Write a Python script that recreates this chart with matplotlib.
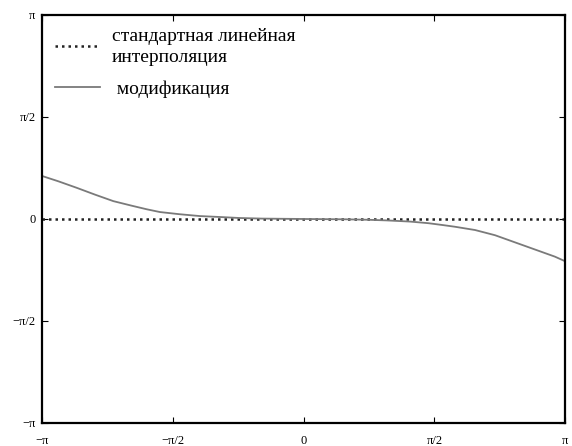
import numpy as np
import matplotlib.pyplot as plt

plt.rcParams['font.family'] = ['Liberation Serif', 'DejaVu Serif']

# values
x_vals = [-3.1416, -2.95, -2.73, -2.51, -2.29, -2.07, -1.89, -1.73, -1.49, -1.25,
          -1.0, -0.77, -0.5, 0.0, 0.5, 0.77, 1.0, 1.28, 1.5, 1.68,
          1.82, 2.06, 2.30, 2.54, 2.78, 3.02, 3.1416]
mod_vals = [0.66, 0.58, 0.48, 0.375, 0.275, 0.205, 0.15, 0.107, 0.073, 0.045,
            0.03, 0.015, 0.006, 0.0, -0.005, -0.012, -0.022, -0.04, -0.065, -0.095,
            -0.12, -0.17, -0.25, -0.36, -0.47, -0.58, -0.65]
lin_x = [-np.pi, np.pi]
lin_vals = [0.0, 0.0]

tick_pos = [-np.pi, -np.pi / 2, 0, np.pi / 2, np.pi]
tick_lbl = ["−π", "−π/2", "0", "π/2", "π"]

fig = plt.figure(figsize=(5.72, 4.46), dpi=100)
ax = fig.add_axes([0.0743, 0.0516, 0.9135, 0.9148])

ax.plot(lin_x, lin_vals, color='#222222', lw=1.8, linestyle=(0, (1, 1.6)),
        label="стандартная линейная\nинтерполяция")
ax.plot(x_vals, mod_vals, color='#7a7a7a', lw=1.3, label=" модификация")

ax.set_xlim(-np.pi, np.pi)
ax.set_ylim(-np.pi, np.pi)
ax.set_xticks(tick_pos)
ax.set_xticklabels(tick_lbl, fontsize=9)
ax.set_yticks(tick_pos)
ax.set_yticklabels(tick_lbl, fontsize=9)
ax.tick_params(direction='in', top=True, right=True, length=4, width=0.8)
ax.tick_params(axis='x', pad=9)
ax.tick_params(axis='y', pad=5)
for s in ax.spines.values():
    s.set_linewidth(1.6)

leg = ax.legend(loc='upper left', frameon=False, fontsize=14, handlelength=2.3,
                handletextpad=0.6, borderaxespad=0.2, borderpad=0.45, labelspacing=0.75)
leg.get_texts()[0].set_linespacing(1.3)

fig.savefig("out.png", dpi=100)
